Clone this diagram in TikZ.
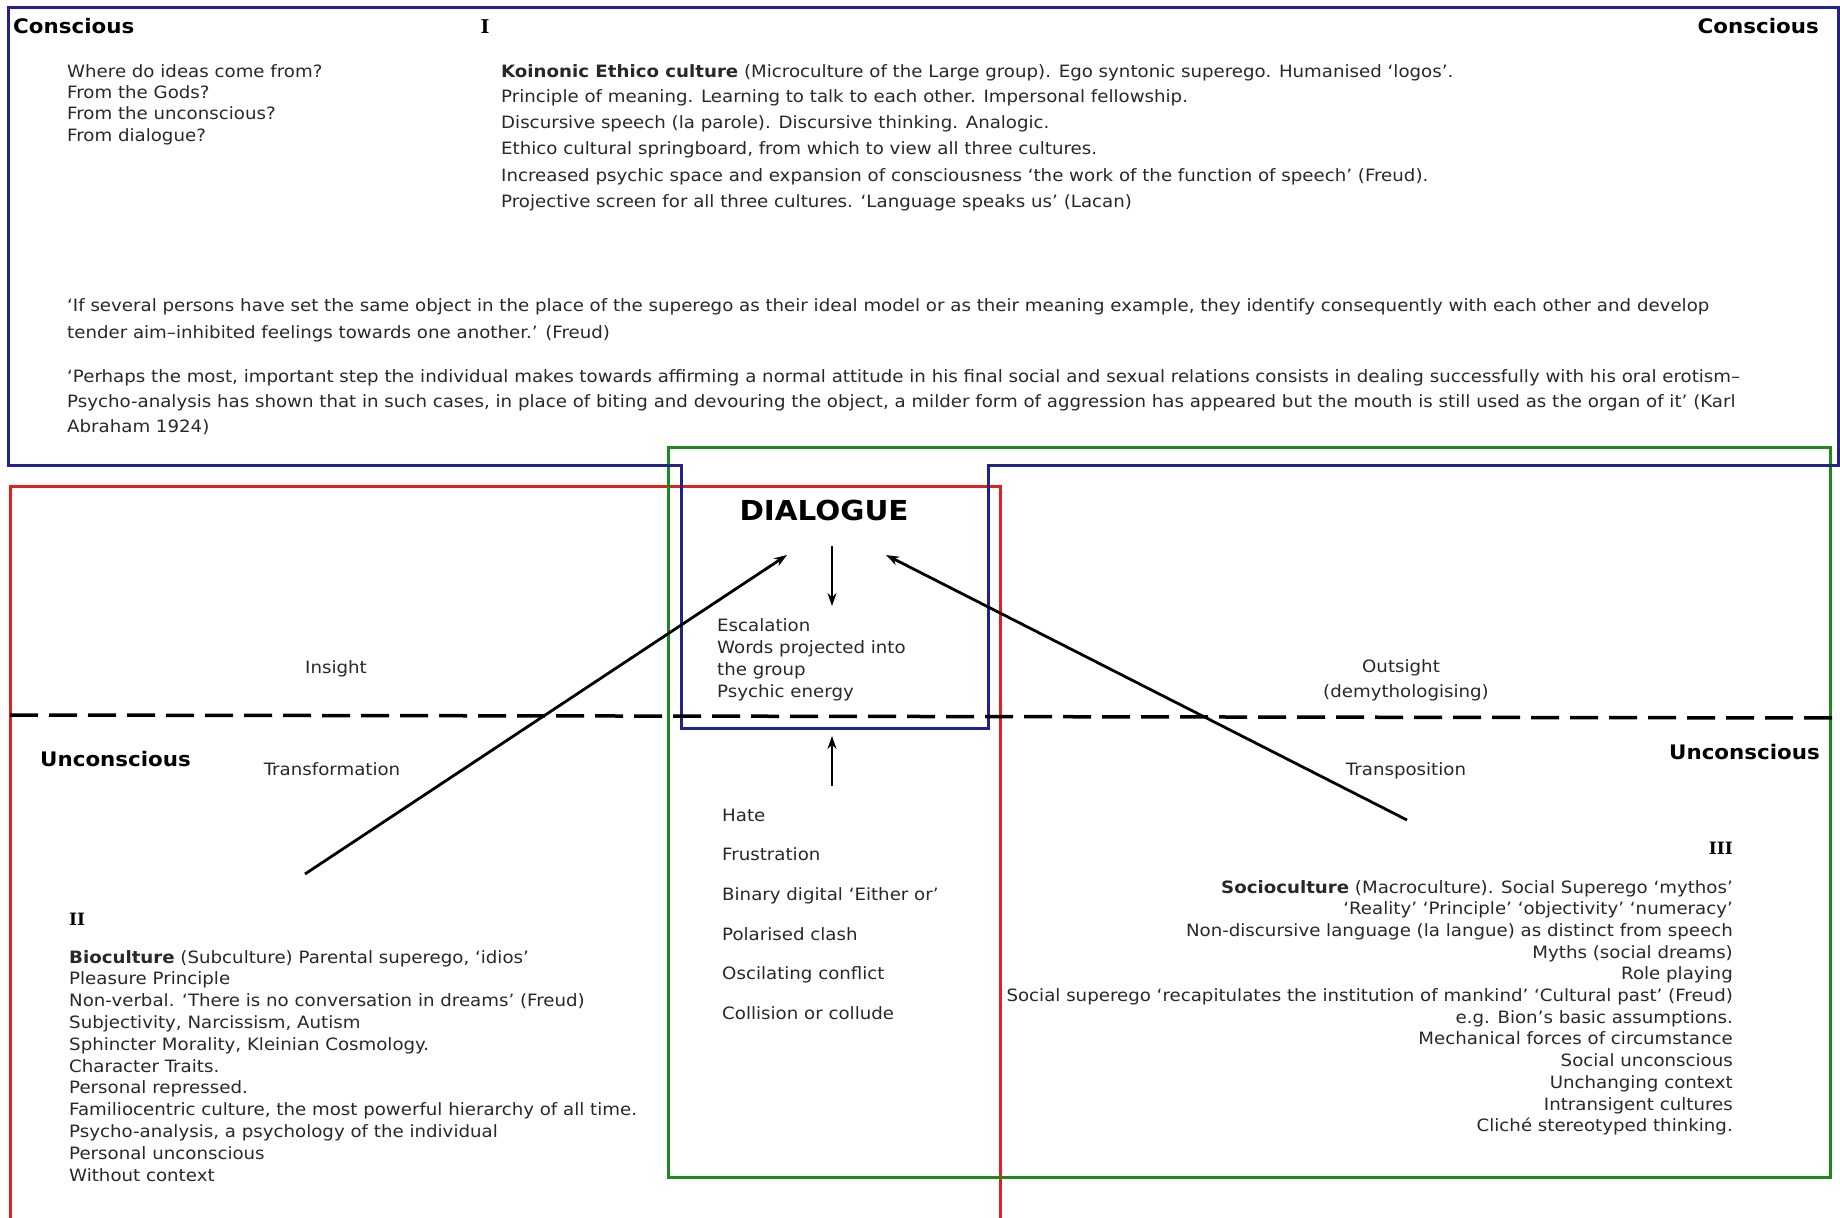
\documentclass[tikz,border=0pt]{standalone}
\usepackage{fontspec}
\setmainfont{DejaVu Sans}[FakeStretch=1.07]
\newfontfamily\romfont{DejaVu Serif}
\usetikzlibrary{arrows.meta}
\definecolor{bblue}{RGB}{34,34,140}
\definecolor{ggreen}{RGB}{30,135,30}
\definecolor{rred}{RGB}{228,30,30}
\definecolor{tgray}{RGB}{40,40,40}
\begin{document}
\begin{tikzpicture}[x=1pt,y=-1pt,
  txt/.style={inner sep=0pt, font=\fontsize{17}{20}\selectfont, text=tgray},
  head/.style={inner sep=0pt, font=\fontsize{20}{24}\selectfont\bfseries, text=black},
  roman/.style={inner sep=0pt, font=\fontsize{17}{20}\romfont\bfseries, text=black},
  frame/.style={line width=3pt},
  arr/.style={line width=2.8pt, -{Stealth[length=13pt,width=9pt]}},
  divider/.style={line width=3.5pt, dash pattern=on 28pt off 11pt}]
\useasboundingbox (0,0) rectangle (1840,1218);
\fill[white] (0,0) rectangle (1840,1218);

% frames
\draw[frame, rred] (10,1220) -- (10,486) -- (1000,486) -- (1000,1220);
\draw[frame, ggreen] (668,447) rectangle (1830,1177);
\draw[frame, bblue] (8,7) -- (1838,7) -- (1838,465) -- (988,465) -- (988,728)
   -- (681,728) -- (681,465) -- (8,465) -- cycle;

% divider
\coordinate (dl) at (10,715);
\coordinate (dr) at (1840,718);
\draw[divider] (dl) -- (dr);

% headings
\node[head, anchor=base west] (consL) at (13,34) {Conscious};
\node[head, anchor=base east] (consR) at (1819,34) {Conscious};
\node[roman, font=\fontsize{19}{22}\romfont\bfseries, anchor=base] (rI) at (485,34) {I};
\node[head, anchor=base west] (uncL) at (40,766) {Unconscious};
\node[head, anchor=base east] (uncR) at (1820,759) {Unconscious};
\node[head, font=\fontsize{27.5}{30}\selectfont\bfseries, anchor=base] (dlg) at (824,520) {DIALOGUE};

% questions
\foreach \yy/\tx [count=\i] in {77/{Where do ideas come from?}, 98/{From the Gods?},
   119/{From the unconscious?}, 141/{From dialogue?}}
  \node[txt, anchor=base west] (q\i) at (67,\yy) {\tx};

% Koinonic block
\foreach \yy/\tx [count=\i] in {
   77/{\textbf{Koinonic Ethico culture} (Microculture of the Large group). Ego syntonic superego. Humanised ‘logos’.},
   102/{Principle of meaning. Learning to talk to each other. Impersonal fellowship.},
   128/{Discursive speech (la parole). Discursive thinking. Analogic.},
   154/{Ethico cultural springboard, from which to view all three cultures.},
   181/{Increased psychic space and expansion of consciousness ‘the work of the function of speech’ (Freud).},
   207/{Projective screen for all three cultures. ‘Language speaks us’ (Lacan)}}
  \node[txt, anchor=base west] (k\i) at (501,\yy) {\tx};

% quotes
\foreach \yy/\tx [count=\i] in {
   311/{‘If several persons have set the same object in the place of the superego as their ideal model or as their meaning example, they identify consequently with each other and develop},
   338/{tender aim–inhibited feelings towards one another.’ (Freud)},
   382/{‘Perhaps the most, important step the individual makes towards affirming a normal attitude in his final social and sexual relations consists in dealing successfully with his oral erotism–},
   407/{Psycho-analysis has shown that in such cases, in place of biting and devouring the object, a milder form of aggression has appeared but the mouth is still used as the organ of it’ (Karl},
   432/{Abraham 1924)}}
  \node[txt, anchor=base west] (p\i) at (67,\yy) {\tx};

% dialogue box text
\foreach \yy/\tx [count=\i] in {631/{Escalation}, 653/{Words projected into}, 675/{the group}, 697/{Psychic energy}}
  \node[txt, anchor=base west] (e\i) at (717,\yy) {\tx};

% side labels
\node[txt, anchor=base] (insight) at (336,673) {Insight};
\node[txt, anchor=base] (outsight) at (1401,672) {Outsight};
\node[txt, anchor=base] (demyth) at (1406,697) {(demythologising)};
\node[txt, anchor=base] (transf) at (332,775) {Transformation};
\node[txt, anchor=base] (transp) at (1406,775) {Transposition};

% hate list
\foreach \yy/\tx [count=\i] in {821/{Hate}, 860/{Frustration}, 900/{Binary digital ‘Either or’},
   940/{Polarised clash}, 979/{Oscilating conflict}, 1019/{Collision or collude}}
  \node[txt, anchor=base west] (h\i) at (722,\yy) {\tx};

% II block
\node[roman, anchor=base west] (rII) at (69,925) {II};
\foreach \tx [count=\i] in {
   {\textbf{Bioculture} (Subculture) Parental superego, ‘idios’},
   {Pleasure Principle},
   {Non-verbal. ‘There is no conversation in dreams’ (Freud)},
   {Subjectivity, Narcissism, Autism},
   {Sphincter Morality, Kleinian Cosmology.},
   {Character Traits.},
   {Personal repressed.},
   {Familiocentric culture, the most powerful hierarchy of all time.},
   {Psycho-analysis, a psychology of the individual},
   {Personal unconscious},
   {Without context}}
  \node[txt, anchor=base west] (b\i) at (69,{963+21.8*(\i-1)}) {\tx};

% III block
\node[roman, anchor=base east] (rIII) at (1733,854) {III};
\foreach \tx [count=\i] in {
   {\textbf{Socioculture} (Macroculture). Social Superego ‘mythos’},
   {‘Reality’ ‘Principle’ ‘objectivity’ ‘numeracy’},
   {Non-discursive language (la langue) as distinct from speech},
   {Myths (social dreams)},
   {Role playing},
   {Social superego ‘recapitulates the institution of mankind’ ‘Cultural past’ (Freud)},
   {e.g. Bion’s basic assumptions.},
   {Mechanical forces of circumstance},
   {Social unconscious},
   {Unchanging context},
   {Intransigent cultures},
   {Cliché stereotyped thinking.}}
  \node[txt, anchor=base east] (s\i) at (1733,{893+21.7*(\i-1)}) {\tx};

% arrows
\coordinate (downA) at (832,546);
\coordinate (downB) at (832,606);
\coordinate (upA) at (832,786);
\coordinate (upB) at (832,736);
\coordinate (leftA) at (305,874);
\coordinate (leftB) at (787,555);
\coordinate (rightA) at (1407,820);
\coordinate (rightB) at (886,555);
\draw[arr] (downA) -- (downB);
\draw[arr] (upA) -- (upB);
\draw[arr] (leftA) -- (leftB);
\draw[arr] (rightA) -- (rightB);
\end{tikzpicture}
\end{document}
